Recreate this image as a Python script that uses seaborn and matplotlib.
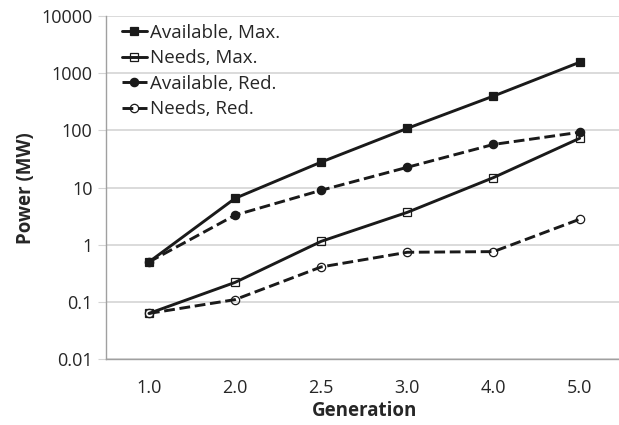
import matplotlib
matplotlib.use("Agg")
import matplotlib.pyplot as plt
import numpy as np
import seaborn as sns

generations = ["1.0", "2.0", "2.5", "3.0", "4.0", "5.0"]
avail_max = [0.50, 6.5, 28, 109, 400, 1560]
needs_max = [0.063, 0.22, 1.15, 3.7, 15, 73]
avail_red = [0.50, 3.3, 9.0, 22.7, 57, 93]
needs_red = [0.063, 0.11, 0.41, 0.74, 0.76, 2.8]

series = [
    ("Available, Max.", avail_max, "s", "#1a1a1a", "-"),
    ("Needs, Max.", needs_max, "s", "none", "-"),
    ("Available, Red.", avail_red, "o", "#1a1a1a", "--"),
    ("Needs, Red.", needs_red, "o", "none", "--"),
]

sns.set_style("white")
plt.rcParams["font.family"] = ["Open Sans", "DejaVu Sans"]

fig = plt.figure(figsize=(6.19, 4.25), dpi=100)
ax = fig.add_axes([0.171, 0.155, 0.835, 0.807])

for label, vals, mk, fc, ls in series:
    sns.lineplot(x=generations, y=vals, ax=ax, sort=False, color="#1a1a1a",
                 linewidth=2.1, linestyle=ls, marker=mk, markersize=6,
                 markerfacecolor=fc, markeredgecolor="#1a1a1a",
                 markeredgewidth=0.9, label=label)

ax.set_yscale("log")
ax.set_ylim(0.01, 10000)
ax.set_xlim(-0.5, len(generations) - 0.5)
ax.set_yticks([0.01, 0.1, 1, 10, 100, 1000, 10000])
ax.set_yticklabels(["0.01", "0.1", "1", "10", "100", "1000", "10000"])
ax.yaxis.set_minor_locator(matplotlib.ticker.NullLocator())
ax.grid(axis="y", color="#d4d4d4", linewidth=1.2)
ax.set_axisbelow(True)

ax.set_xticks(np.arange(-0.5, len(generations)), minor=True)
ax.tick_params(axis="x", which="major", length=0, labelsize=13, pad=14)
ax.tick_params(axis="x", which="minor", length=6, color="#a0a0a0", direction="out")
ax.tick_params(axis="y", which="major", length=6, color="#d4d4d4", labelsize=13, left=True)

for s in ["top", "right"]:
    ax.spines[s].set_visible(False)
for s in ["left", "bottom"]:
    ax.spines[s].set_color("#a0a0a0")
    ax.spines[s].set_linewidth(1.0)

ax.set_xlabel("Generation", fontsize=13.5, fontweight="bold", labelpad=3)
ax.set_ylabel("Power (MW)", fontsize=13.5, fontweight="bold", labelpad=4)

ax.legend(loc="upper left", frameon=False, fontsize=13.5, handlelength=1.3,
          handletextpad=0.2, labelspacing=0.4, borderaxespad=0.2,
          bbox_to_anchor=(0.01, 1.01))

fig.savefig("out.png", dpi=100)
